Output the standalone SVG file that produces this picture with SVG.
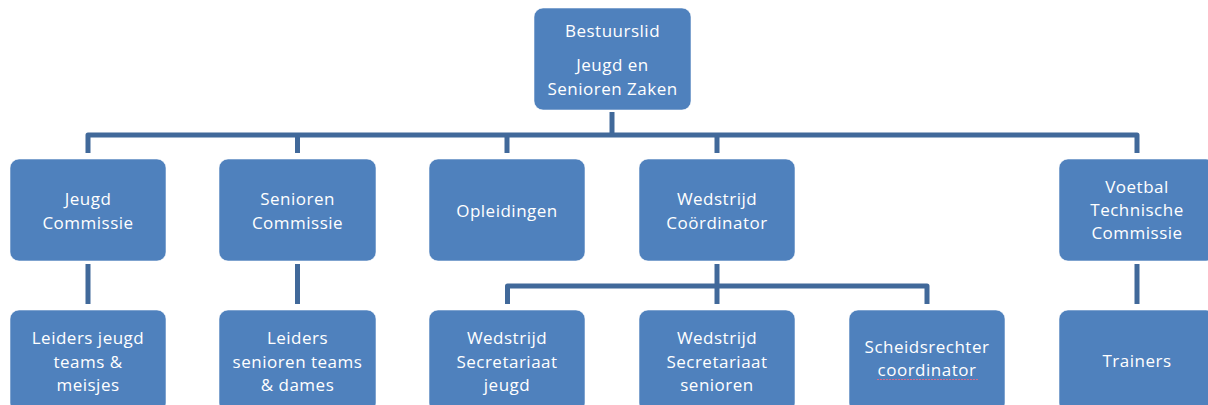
<svg xmlns="http://www.w3.org/2000/svg" width="1208" height="405" viewBox="0 0 1208 405">
<style>
.box{fill:#4F81BD;stroke:#ffffff;stroke-opacity:0.55;stroke-width:1}
.lbl{font-family:"Open Sans","Liberation Sans",sans-serif;font-size:17px;fill:#ffffff;text-anchor:middle;letter-spacing:0.5px}
.con{fill:none;stroke:#41699A;stroke-width:5;stroke-linejoin:round;stroke-linecap:butt}
</style>
<rect width="1208" height="405" fill="#ffffff"/>
<g id="connectors">
<path class="con" d="M612,112 V135"/>
<path class="con" d="M88,153 V135 H1137 V153"/>
<path class="con" d="M297.5,135 V153 M507,135 V153 M717,135 V153"/>
<path class="con" d="M88,264 V304 M297.5,264 V304 M1137,264 V304"/>
<path class="con" d="M717,264 V304"/>
<path class="con" d="M507.5,304 V286 H927 V304"/>
</g>
<g id="n-bestuurslid">
<rect class="box" x="534" y="8" width="157" height="102" rx="9"/>
<text class="lbl" x="612.5" y="37">Bestuurslid</text>
<text class="lbl" x="612.5" y="71">Jeugd en</text>
<text class="lbl" x="612.5" y="95">Senioren Zaken</text>
</g>
<g id="n-jeugdcommissie">
<rect class="box" x="10" y="159" width="156" height="102" rx="9"/>
<text class="lbl" x="88" y="205">Jeugd</text>
<text class="lbl" x="88" y="229">Commissie</text>
</g>
<g id="n-seniorencommissie">
<rect class="box" x="219" y="159" width="157" height="102" rx="9"/>
<text class="lbl" x="297.5" y="205">Senioren</text>
<text class="lbl" x="297.5" y="229">Commissie</text>
</g>
<g id="n-opleidingen">
<rect class="box" x="429" y="159" width="156" height="102" rx="9"/>
<text class="lbl" x="507" y="217">Opleidingen</text>
</g>
<g id="n-wedstrijdcoordinator">
<rect class="box" x="639" y="159" width="156" height="102" rx="9"/>
<text class="lbl" x="717" y="205">Wedstrijd</text>
<text class="lbl" x="717" y="229">Coördinator</text>
</g>
<g id="n-voetbaltechnische">
<rect class="box" x="1059" y="159" width="156" height="102" rx="9"/>
<text class="lbl" x="1137" y="193">Voetbal</text>
<text class="lbl" x="1137" y="216">Technische</text>
<text class="lbl" x="1137" y="239">Commissie</text>
</g>
<g id="n-leidersjeugd">
<rect class="box" x="10" y="310" width="156" height="102" rx="9"/>
<text class="lbl" x="88" y="344">Leiders jeugd</text>
<text class="lbl" x="88" y="367.5">teams &amp;</text>
<text class="lbl" x="88" y="391">meisjes</text>
</g>
<g id="n-leiderssenioren">
<rect class="box" x="219" y="310" width="157" height="102" rx="9"/>
<text class="lbl" x="297.5" y="344">Leiders</text>
<text class="lbl" x="297.5" y="367.5">senioren teams</text>
<text class="lbl" x="297.5" y="391">&amp; dames</text>
</g>
<g id="n-secretariaatjeugd">
<rect class="box" x="429" y="310" width="156" height="102" rx="9"/>
<text class="lbl" x="507" y="344">Wedstrijd</text>
<text class="lbl" x="507" y="367.5">Secretariaat</text>
<text class="lbl" x="507" y="391">jeugd</text>
</g>
<g id="n-secretariaatsenioren">
<rect class="box" x="639" y="310" width="156" height="102" rx="9"/>
<text class="lbl" x="717" y="344">Wedstrijd</text>
<text class="lbl" x="717" y="367.5">Secretariaat</text>
<text class="lbl" x="717" y="391">senioren</text>
</g>
<g id="n-scheidsrechter">
<rect class="box" x="849" y="310" width="156" height="102" rx="9"/>
<text class="lbl" x="927" y="353">Scheidsrechter</text>
<text class="lbl" x="927" y="376">coordinator</text>
<path d="M877,379.5 H978" stroke="#D86A8A" stroke-width="1" stroke-dasharray="2 1" fill="none"/>
</g>
<g id="n-trainers">
<rect class="box" x="1059" y="310" width="156" height="102" rx="9"/>
<text class="lbl" x="1137" y="367">Trainers</text>
</g>
</svg>
